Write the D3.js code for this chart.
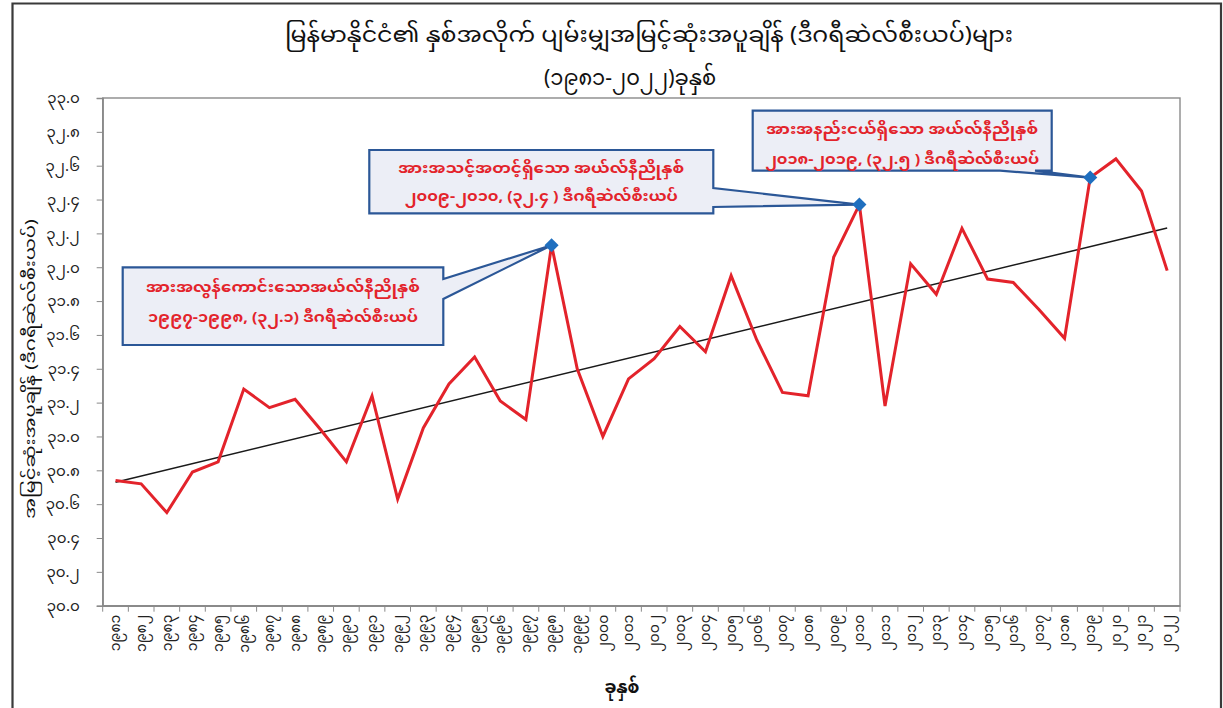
<!DOCTYPE html>
<html>
<head>
<meta charset="utf-8">
<script src="https://cdn.jsdelivr.net/npm/d3@7/dist/d3.min.js"></script>
<style>
  html, body { margin: 0; padding: 0; background: #ffffff; }
  svg { display: block; }
  text { font-family: "Noto Sans Myanmar", "Padauk", "Myanmar Text", "Noto Sans", "DejaVu Sans", sans-serif; }
</style>
</head>
<body>
<svg id="chart" width="1223" height="708"></svg>
<script>
// ---------------- data ----------------
const years = [1981,1982,1983,1984,1985,1986,1987,1988,1989,1990,
               1991,1992,1993,1994,1995,1996,1997,1998,1999,2000,
               2001,2002,2003,2004,2005,2006,2007,2008,2009,2010,
               2011,2012,2013,2014,2015,2016,2017,2018,2019,2020,
               2021,2022];
const yearLabels = ["၁၉၈၁","၁၉၈၂","၁၉၈၃","၁၉၈၄","၁၉၈၅","၁၉၈၆","၁၉၈၇","၁၉၈၈","၁၉၈၉","၁၉၉၀",
                    "၁၉၉၁","၁၉၉၂","၁၉၉၃","၁၉၉၄","၁၉၉၅","၁၉၉၆","၁၉၉၇","၁၉၉၈","၁၉၉၉","၂၀၀၀",
                    "၂၀၀၁","၂၀၀၂","၂၀၀၃","၂၀၀၄","၂၀၀၅","၂၀၀၆","၂၀၀၇","၂၀၀၈","၂၀၀၉","၂၀၁၀",
                    "၂၀၁၁","၂၀၁၂","၂၀၁၃","၂၀၁၄","၂၀၁၅","၂၀၁၆","၂၀၁၇","၂၀၁၈","၂၀၁၉","၂၀၂၀",
                    "၂၀၂၁","၂၀၂၂"];
const maxTemp = [30.74,30.72,30.55,30.79,30.85,31.28,31.17,31.22,31.04,30.85,
                 31.24,30.63,31.05,31.31,31.47,31.21,31.10,32.13,31.40,31.00,
                 31.34,31.46,31.65,31.50,31.95,31.57,31.26,31.24,32.06,32.37,
                 31.18,32.02,31.84,32.23,31.93,31.91,31.75,31.58,32.53,32.64,
                 32.45,31.98];
const yTicks = [30.0,30.2,30.4,30.6,30.8,31.0,31.2,31.4,31.6,31.8,32.0,32.2,32.4,32.6,32.8,33.0];
const yTickLabels = ["၃၀.၀","၃၀.၂","၃၀.၄","၃၀.၆","၃၀.၈","၃၁.၀","၃၁.၂","၃၁.၄","၃၁.၆","၃၁.၈",
                     "၃၂.၀","၃၂.၂","၃၂.၄","၃၂.၆","၃၂.၈","၃၃.၀"];
const highlightYears = [1998, 2010, 2019];
const calloutLines = [
  ["အားအလွန်ကောင်းသောအယ်လ်နီညိုနှစ်", "၁၉၉၇-၁၉၉၈, (၃၂.၁) ဒီဂရီဆဲလ်စီးယပ်"],
  ["အားအသင့်အတင့်ရှိသော အယ်လ်နီညိုနှစ်", "၂၀၀၉-၂၀၁၀, (၃၂.၄ ) ဒီဂရီဆဲလ်စီးယပ်"],
  ["အားအနည်းငယ်ရှိသော အယ်လ်နီညိုနှစ်", "၂၀၁၈-၂၀၁၉, (၃၂.၅ ) ဒီဂရီဆဲလ်စီးယပ်"]
];
const titleLines = ["မြန်မာနိုင်ငံ၏ နှစ်အလိုက် ပျမ်းမျှအမြင့်ဆုံးအပူချိန် (ဒီဂရီဆဲလ်စီးယပ်)များ",
                    "(၁၉၈၁-၂၀၂၂)ခုနှစ်"];
const yTitle = "အမြင့်ဆုံးအပူချိန် (ဒီဂရီဆဲလ်စီးယပ်)";
const xTitle = "ခုနှစ်";

// ---------------- layout ----------------
const svg = d3.select("#chart");
const L = 102.7, R = 1180, T = 98, B = 605.7;

const x = d3.scaleBand().domain(years).range([L, R]).paddingInner(0).paddingOuter(0);
const y = d3.scaleLinear().domain([30, 33]).range([B, T]);
const cx = yr => x(yr) + x.bandwidth() / 2;

// outer frame
svg.append("path")
  .attr("d", `M12.5,708 V3.5 H1221 V708`)
  .attr("fill", "none").attr("stroke", "#3a3a3a").attr("stroke-width", 2.2);

// plot border
svg.append("rect")
  .attr("x", L).attr("y", T).attr("width", R - L).attr("height", B - T)
  .attr("fill", "#ffffff").attr("stroke", "#8a8a8a").attr("stroke-width", 1.4);

// y axis
const yAxis = svg.append("g").attr("transform", `translate(${L},0)`)
  .call(d3.axisLeft(y).tickValues(yTicks).tickSize(6).tickPadding(17)
        .tickFormat((d, i) => yTickLabels[i]));
yAxis.select(".domain").attr("stroke", "#8a8a8a").attr("stroke-width", 1.4);
yAxis.selectAll(".tick line").attr("stroke", "#8a8a8a");
yAxis.selectAll(".tick text").attr("font-size", 15).attr("fill", "#222");

// x axis (ticks at category boundaries)
const xAxis = svg.append("g").attr("transform", `translate(0,${B})`)
  .call(d3.axisBottom(x).tickSize(0).tickFormat((d, i) => yearLabels[i]));
xAxis.select(".domain").attr("stroke", "#8a8a8a").attr("stroke-width", 1.4);
xAxis.selectAll(".tick text")
  .attr("font-size", 14).attr("fill", "#222")
  .attr("text-anchor", "end")
  .attr("transform", "rotate(-90)")
  .attr("x", -9).attr("y", 0).attr("dy", "0.35em");
const bounds = years.map(yr => x(yr)).concat([R]);
svg.append("g").selectAll("line").data(bounds).join("line")
  .attr("x1", d => d).attr("x2", d => d)
  .attr("y1", B).attr("y2", B + 6)
  .attr("stroke", "#8a8a8a").attr("stroke-width", 1);

// trend line (least squares)
const n = years.length;
const idx = d3.range(n);
const mx = d3.mean(idx), my = d3.mean(maxTemp);
const slope = d3.sum(idx, i => (i - mx) * (maxTemp[i] - my)) / d3.sum(idx, i => (i - mx) ** 2);
const icpt = my - slope * mx;
svg.append("line")
  .attr("x1", cx(years[0])).attr("y1", y(icpt))
  .attr("x2", cx(years[n - 1])).attr("y2", y(icpt + slope * (n - 1)))
  .attr("stroke", "#1a1a1a").attr("stroke-width", 1.5);

// data line
const line = d3.line().x((d, i) => cx(years[i])).y(d => y(d));
svg.append("path").datum(maxTemp)
  .attr("d", line)
  .attr("fill", "none").attr("stroke", "#e3232b").attr("stroke-width", 3)
  .attr("stroke-linejoin", "miter");

// callouts
const boxes = [
  {x0: 122.7, y0: 267.3, x1: 443.3, y1: 345, side: "right", a: 279, b: 299, c1: 288, c2: 318, w1: 274, w2: 270},
  {x0: 369.3, y0: 150, x1: 713.3, y1: 213.3, side: "right", a: 188, b: 207, c1: 168.5, c2: 197, w1: 286, w2: 273},
  {x0: 752.7, y0: 110.7, x1: 1051.7, y1: 170.7, side: "bottom", a: 1035, b: 1000, c1: 130, c2: 159.5, w1: 272, w2: 274}
];
boxes.forEach((bx, k) => {
  const yr = highlightYears[k];
  const tx = cx(yr), ty = y(maxTemp[years.indexOf(yr)]);
  let d;
  if (bx.side === "right") {
    d = `M${bx.x0},${bx.y0} H${bx.x1} V${bx.a} L${tx},${ty} L${bx.x1},${bx.b} V${bx.y1} H${bx.x0} Z`;
  } else {
    d = `M${bx.x0},${bx.y0} H${bx.x1} V${bx.y1} H${bx.a} L${tx},${ty} L${bx.b},${bx.y1} H${bx.x0} Z`;
  }
  svg.append("path").attr("d", d)
    .attr("fill", "#eceef6").attr("stroke", "#2b5797").attr("stroke-width", 2.2)
    .attr("stroke-linejoin", "miter");
  const mxc = (bx.x0 + bx.x1) / 2;
  const t = svg.append("text")
    .attr("text-anchor", "middle")
    .attr("font-size", 13.5).attr("font-weight", "bold").attr("fill", "#e3232b");
  t.append("tspan").attr("x", mxc).attr("y", bx.c1 + 4)
    .attr("textLength", bx.w1).attr("lengthAdjust", "spacingAndGlyphs").text(calloutLines[k][0]);
  t.append("tspan").attr("x", mxc).attr("y", bx.c2 + 4)
    .attr("textLength", bx.w2).attr("lengthAdjust", "spacingAndGlyphs").text(calloutLines[k][1]);
});

// highlight diamonds
svg.append("g").selectAll("path").data(highlightYears).join("path")
  .attr("d", d3.symbol(d3.symbolSquare, 100))
  .attr("transform", yr => `translate(${cx(yr)},${y(maxTemp[years.indexOf(yr)])}) rotate(45)`)
  .attr("fill", "#1f6fbf");

// titles
const title = svg.append("text").attr("text-anchor", "middle")
  .attr("font-size", 21).attr("fill", "#111");
title.append("tspan").attr("x", 649).attr("y", 42)
  .attr("textLength", 728).attr("lengthAdjust", "spacingAndGlyphs").text(titleLines[0]);
title.append("tspan").attr("x", 630).attr("y", 85).text(titleLines[1]);

svg.append("text")
  .attr("transform", "translate(31,369) rotate(-90)")
  .attr("text-anchor", "middle").attr("dominant-baseline", "middle")
  .attr("font-size", 15).attr("fill", "#111")
  .attr("textLength", 300).attr("lengthAdjust", "spacingAndGlyphs")
  .text(yTitle);
svg.append("text").attr("x", 622).attr("y", 688)
  .attr("text-anchor", "middle").attr("dominant-baseline", "middle")
  .attr("font-size", 17).attr("font-weight", "bold").attr("fill", "#111").text(xTitle);
</script>
</body>
</html>
